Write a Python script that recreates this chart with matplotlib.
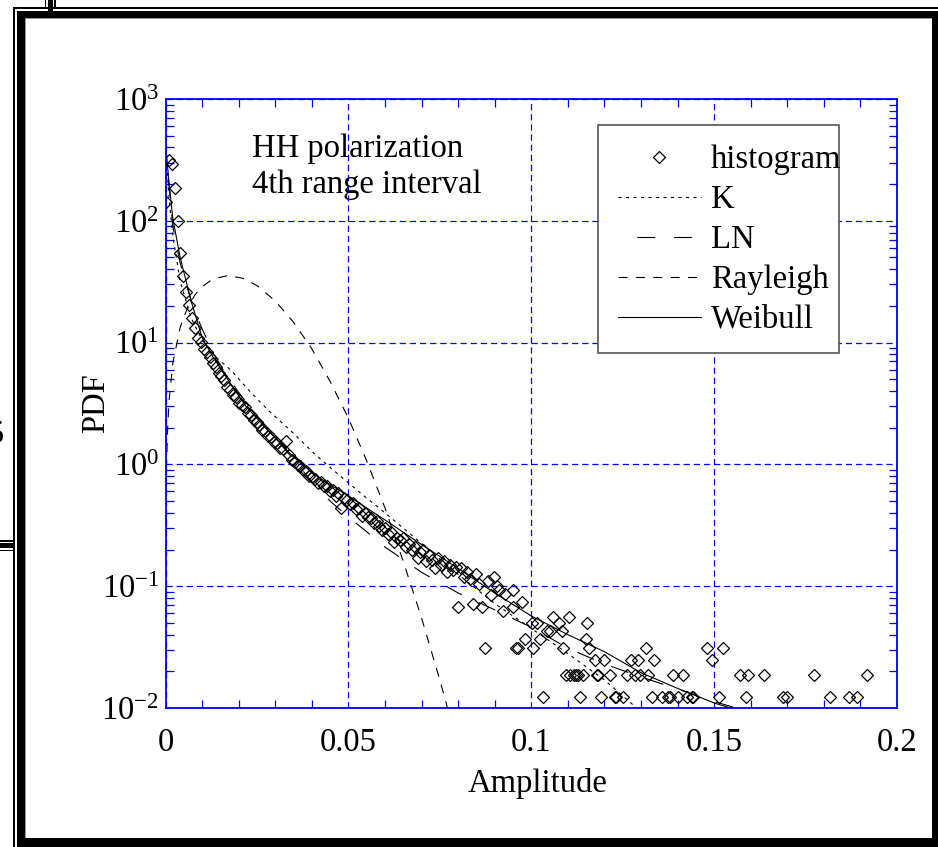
import matplotlib
matplotlib.use("Agg")
import matplotlib.pyplot as plt
from matplotlib.patches import Rectangle
from matplotlib.ticker import FixedLocator, LogLocator, NullFormatter

plt.rcParams['font.family'] = ['Liberation Serif', 'DejaVu Serif']
plt.rcParams['mathtext.fontset'] = 'custom'
plt.rcParams['mathtext.rm'] = 'Liberation Serif'
plt.rcParams['mathtext.it'] = 'Liberation Serif:italic'
plt.rcParams['axes.unicode_minus'] = False
plt.rcParams['lines.scale_dashes'] = False

# histogram points (amplitude, pdf)
hist_x = [0.0001, 0.0009, 0.0017, 0.0025, 0.0033, 0.0041, 0.0049, 0.0057, 0.0065, 0.0073,
          0.0081, 0.0089, 0.0097, 0.0105, 0.0113, 0.0121, 0.0129, 0.0137, 0.0145, 0.0153,
          0.0161, 0.0169, 0.0177, 0.0185, 0.0193, 0.0201, 0.0209, 0.0217, 0.0225, 0.0233,
          0.0241, 0.0249, 0.0257, 0.0265, 0.0273, 0.0281, 0.0289, 0.0297, 0.0305, 0.0313,
          0.0321, 0.0329, 0.0337, 0.0345, 0.0353, 0.0361, 0.0369, 0.0377, 0.0385, 0.0393,
          0.0401, 0.0409, 0.0417, 0.0425, 0.0433, 0.0441, 0.0449, 0.0457, 0.0465, 0.0473,
          0.0481, 0.0489, 0.0497, 0.0505, 0.0513, 0.0521, 0.0529, 0.0537, 0.0545, 0.0553,
          0.0561, 0.0569, 0.0577, 0.0585, 0.0593, 0.0601, 0.0609, 0.0617, 0.0625, 0.0633,
          0.0641, 0.0649, 0.0657, 0.0665, 0.0673, 0.0681, 0.0689, 0.0697, 0.0705, 0.0713,
          0.0721, 0.0729, 0.0737, 0.0745, 0.0753, 0.0761, 0.0769, 0.0777, 0.0785, 0.0793,
          0.0801, 0.0809, 0.0817, 0.0825, 0.0833, 0.0841, 0.0849, 0.0857, 0.0865, 0.0873,
          0.0881, 0.0889, 0.0897, 0.0905, 0.0913,
          0.0924, 0.0928, 0.0949, 0.0951, 0.0957, 0.0965, 0.0974, 0.0983, 0.1001, 0.1006,
          0.1015, 0.1024, 0.1031, 0.1042, 0.1051, 0.1060, 0.1077, 0.1083, 0.1088, 0.1095,
          0.1104, 0.1106, 0.1117, 0.1122, 0.1129, 0.1133, 0.1142, 0.1150, 0.1153, 0.1159,
          0.1174, 0.1179, 0.1183, 0.1192, 0.1199, 0.1215, 0.1229, 0.1233, 0.1251, 0.1261,
          0.1272, 0.1283, 0.1293, 0.1297, 0.1314, 0.1320, 0.1329, 0.1336, 0.1358, 0.1375,
          0.1379, 0.1388, 0.1402, 0.1414, 0.1425, 0.1439, 0.1443, 0.1481, 0.1493, 0.1514,
          0.1523, 0.1571, 0.1587, 0.1593, 0.1636, 0.1689, 0.1700, 0.1773, 0.1817, 0.1870,
          0.1891, 0.1917]
hist_y = [142, 316, 290, 185, 100, 54, 35, 26, 20.5, 16,
          13.3, 11.0, 10.2, 8.9, 8.3, 7.6, 6.8, 6.3, 5.6, 5.3,
          4.9, 4.3, 4.1, 3.7, 3.6, 3.2, 3.1, 2.95, 2.65, 2.55,
          2.3, 2.25, 2.1, 1.9, 1.88, 1.7, 1.68, 1.52, 1.50, 1.36,
          1.34, 1.55, 1.19, 1.08, 1.05, 0.98, 0.97, 0.90, 0.88, 0.80,
          0.79, 0.76, 0.70, 0.72, 0.66, 0.67, 0.60, 0.62, 0.55, 0.58,
          0.44, 0.53, 0.51, 0.47, 0.48, 0.43, 0.44, 0.38, 0.40, 0.37,
          0.36, 0.33, 0.34, 0.31, 0.29, 0.30, 0.27, 0.28, 0.23, 0.25,
          0.24, 0.25, 0.21, 0.22, 0.20, 0.21, 0.17, 0.19, 0.20, 0.16,
          0.18, 0.165, 0.14, 0.17, 0.15, 0.16, 0.13, 0.15, 0.135, 0.145,
          0.068, 0.14, 0.12, 0.13, 0.115, 0.072, 0.125, 0.105, 0.068, 0.031,
          0.11, 0.085, 0.12, 0.10, 0.093,
          0.062, 0.087, 0.068, 0.093, 0.031, 0.031, 0.074, 0.037, 0.050, 0.031,
          0.050, 0.037, 0.0124, 0.043, 0.043, 0.056, 0.050, 0.043, 0.031, 0.0186,
          0.056, 0.0186, 0.0186, 0.0186, 0.0186, 0.0124, 0.0186, 0.037, 0.050, 0.031,
          0.025, 0.0186, 0.0186, 0.0124, 0.025, 0.0186, 0.0124, 0.0124, 0.0124, 0.0186,
          0.025, 0.0186, 0.025, 0.0186, 0.031, 0.0186, 0.0124, 0.025, 0.0124, 0.0124,
          0.0124, 0.0186, 0.0124, 0.0186, 0.0124, 0.0124, 0.0124, 0.031, 0.025, 0.0124,
          0.031, 0.0186, 0.0124, 0.0186, 0.0186, 0.0124, 0.0124, 0.0186, 0.0124, 0.0124,
          0.0124, 0.0186]

# fitted models
k_x = [0.0002, 0.001, 0.002, 0.004, 0.007, 0.010, 0.014, 0.018, 0.023, 0.028, 0.035, 0.041,
       0.047, 0.054, 0.060, 0.065, 0.072, 0.080, 0.090, 0.100, 0.110, 0.120, 0.128, 0.132]
k_y = [330, 150, 75, 32, 16, 10.5, 7.5, 5.9, 4.0, 2.8, 1.8, 1.2,
       0.84, 0.56, 0.40, 0.30, 0.2, 0.125, 0.072, 0.045, 0.028, 0.017, 0.0105, 0.0085]

ln_x = [0.0002, 0.001, 0.002, 0.004, 0.006, 0.008, 0.010, 0.013, 0.016, 0.020, 0.025, 0.030,
        0.035, 0.040, 0.045, 0.050, 0.055, 0.060, 0.070, 0.080, 0.090, 0.100, 0.110, 0.120,
        0.130, 0.140, 0.150, 0.158]
ln_y = [320, 190, 90, 45, 28, 18, 13, 8.3, 5.8, 3.9, 2.5, 1.65,
        1.1, 0.72, 0.5, 0.37, 0.28, 0.21, 0.13, 0.088, 0.064, 0.046, 0.031, 0.023,
        0.018, 0.0143, 0.0113, 0.0096]

ray_x = [0.0001, 0.0003, 0.0006, 0.001, 0.002, 0.004, 0.006, 0.008, 0.010, 0.013, 0.017, 0.021,
         0.025, 0.030, 0.035, 0.040, 0.045, 0.050, 0.055, 0.060, 0.065, 0.070, 0.075, 0.078]
ray_y = [0.34, 1.03, 2.05, 3.4, 6.8, 13.3, 19.3, 24.5, 28.8, 33.3, 35.5, 33.8,
         29.4, 22.0, 14.7, 8.9, 4.8, 2.4, 1.07, 0.44, 0.16, 0.055, 0.017, 0.008]

wb_x = [0.0002, 0.001, 0.002, 0.004, 0.007, 0.010, 0.013, 0.017, 0.022, 0.028, 0.035, 0.042,
        0.050, 0.060, 0.070, 0.080, 0.090, 0.100, 0.110, 0.120, 0.130, 0.140, 0.150, 0.157]
wb_y = [370, 200, 105, 50, 22, 11, 7.6, 5.0, 3.0, 1.9, 1.15, 0.78,
        0.55, 0.35, 0.22, 0.14, 0.088, 0.057, 0.040, 0.029, 0.0195, 0.0145, 0.011, 0.0095]

x_ticks = [0, 0.05, 0.1, 0.15, 0.2]
x_labels = ['0', '0.05', '0.1', '0.15', '0.2']

W, H = 938, 847
FS = 23.5
BLUE = '#0000ff'

fig = plt.figure(figsize=(W / 100, H / 100), dpi=100)
ax = fig.add_axes([165.5 / W, 1 - 708 / H, 731.5 / W, 609 / H])

ax.plot(hist_x, hist_y, linestyle='none', marker='D', ms=6.4, mfc='none', mec='k',
        mew=0.9, label='histogram', zorder=4)
ax.plot(k_x, k_y, color='k', lw=0.8, linestyle=(0, (2.2, 3.2)), label='K')
ax.plot(ln_x, ln_y, color='k', lw=0.8, linestyle=(13, (13, 13.5)), label='LN')
ax.plot(ray_x, ray_y, color='k', lw=0.8, linestyle=(0, (6.5, 6.0)), label='Rayleigh')
ax.plot(wb_x, wb_y, color='k', lw=0.8, label='Weibull')

ax.set_yscale('log')
ax.set_xlim(0, 0.2)
ax.set_ylim(1e-2, 1e3)
ax.set_xticks(x_ticks)
ax.set_xticklabels(x_labels)
ax.xaxis.set_minor_locator(FixedLocator([i / 100 for i in range(1, 20)]))
ax.yaxis.set_minor_locator(LogLocator(base=10, subs=range(2, 10)))
ax.yaxis.set_minor_formatter(NullFormatter())

ax.tick_params(which='both', direction='in', top=True, right=True, color=BLUE,
               labelsize=FS, width=0.9)
ax.tick_params(which='major', length=0)
ax.tick_params(axis='x', which='major', pad=14)
ax.tick_params(axis='y', which='major', pad=4.5)
ax.tick_params(which='minor', length=6)
for s in ax.spines.values():
    s.set_color(BLUE)
    s.set_linewidth(1.3)
ax.grid(True, which='major', color=BLUE, lw=0.9, dashes=(4.5, 2.8))

ax.set_xlabel('Amplitude', fontsize=FS)
ax.xaxis.set_label_coords(0.509, -0.099)
ax.set_ylabel('PDF', fontsize=FS)
ax.yaxis.set_label_coords(-0.075, 0.5)

ax.text(0.118, 0.905, 'HH polarization', transform=ax.transAxes, fontsize=FS, va='baseline')
ax.text(0.118, 0.846, '4th range interval', transform=ax.transAxes, fontsize=FS, va='baseline')

# legend: white box with grey border, entries placed inside it
lx0, ly0, lx1, ly1 = 598, 125, 839, 353
ax.add_patch(Rectangle(((lx0 - 165.5) / 731.5, 1 - (ly1 - 99) / 609),
                       (lx1 - lx0) / 731.5, (ly1 - ly0) / 609, transform=ax.transAxes,
                       facecolor='white', edgecolor='#555555', lw=1.2, zorder=4.9))
leg = ax.legend(loc='upper left', bbox_to_anchor=((lx0 - 165.5) / 731.5, 1 - (ly0 - 99) / 609),
                borderaxespad=0, fontsize=FS, frameon=False, handlelength=2.55,
                handletextpad=0.3, borderpad=0.6, labelspacing=0.29)


# page frame around the picture (pixel coordinates, y down)
def box(x0, y0, x1, y1, color='k'):
    fig.add_artist(Rectangle((x0 / W, 1 - y1 / H), (x1 - x0) / W, (y1 - y0) / H,
                             transform=fig.transFigure, color=color, lw=0))


box(17, 11, 25, H)
box(17, 11, W, 18)
box(932, 11, W, H)
box(17, 838, W, H)
box(13, 7, 14.8, H)
box(13, 7, W, 8.6)
box(25, 18, 26.3, 838, '#9a9a9a')
box(25, 18, 932, 19.3, '#9a9a9a')
box(44.5, 0, 46, 8)
box(47.5, 0, 52.5, 11)
box(54, 0, 55.5, 8)
box(0, 540, 14, 541.5)
box(0, 543, 14, 548)
box(0, 549.5, 14, 551)
fig.text(4 / W, 1 - 443 / H, '5', fontsize=FS, ha='right', va='baseline')

fig.savefig('out.png', dpi=100)
